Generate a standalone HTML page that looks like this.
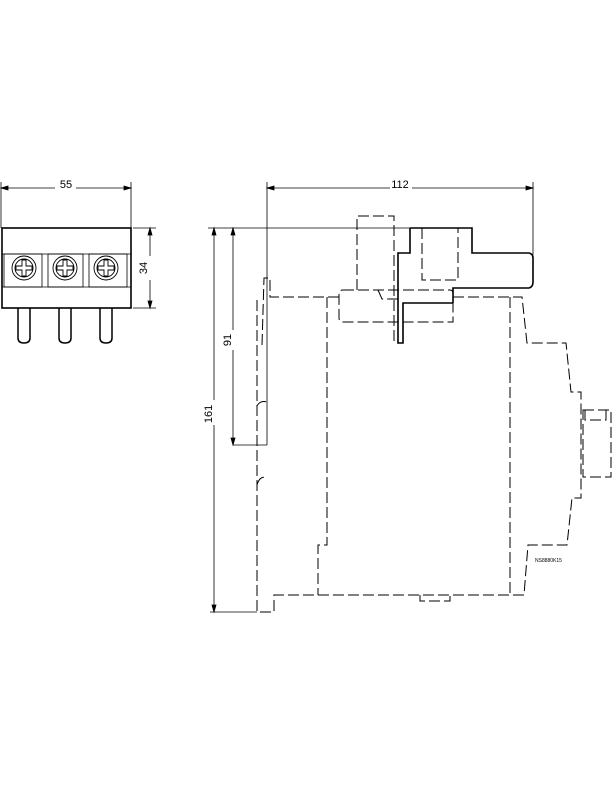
<!DOCTYPE html>
<html><head><style>body{margin:0;background:#fff}svg{display:block}</style></head><body>
<svg width="612" height="792" viewBox="0 0 612 792" xmlns="http://www.w3.org/2000/svg" font-family="Liberation Sans, sans-serif" fill="none" stroke="#000">
<!-- left view -->
<g stroke-width="0.8">
<line x1="1" y1="182" x2="1" y2="228"/><line x1="131" y1="182" x2="131" y2="228"/>
<line x1="1" y1="188" x2="55" y2="188"/><line x1="76" y1="188" x2="131" y2="188"/>
<path d="M1,188 l7,-2 v4z M131,188 l-7,-2 v4z" fill="#000"/>
<line x1="133" y1="228" x2="156" y2="228"/><line x1="133" y1="308" x2="156" y2="308"/>
<line x1="150" y1="228" x2="150" y2="256"/><line x1="150" y1="280" x2="150" y2="308"/>
<path d="M150,228 l-2,7 h4z M150,308 l-2,-7 h4z" fill="#000"/>
</g>
<text x="66" y="188" font-size="11" fill="#000" stroke="none" text-anchor="middle">55</text>
<text x="0" y="0" font-size="11" fill="#000" stroke="none" text-anchor="middle" transform="translate(147,268) rotate(-90)">34</text>
<rect x="2" y="228" width="129" height="80" stroke-width="1.6"/>
<g stroke-width="0.8">
<line x1="2" y1="254" x2="131" y2="254"/><line x1="2" y1="287" x2="131" y2="287"/>
<rect x="4" y="254" width="38" height="33"/><rect x="48" y="254" width="35" height="33"/><rect x="89" y="254" width="38" height="33"/>
</g>
<g stroke-width="0.9">
<circle cx="24" cy="268" r="12"/><circle cx="24" cy="268" r="9"/>
<circle cx="65" cy="268" r="12"/><circle cx="65" cy="268" r="9"/>
<circle cx="106" cy="268" r="12"/><circle cx="106" cy="268" r="9"/>
<path d="M22,260v6h-6v4h6v6h4v-6h6v-4h-6v-6z M63,260v6h-6v4h6v6h4v-6h6v-4h-6v-6z M104,260v6h-6v4h6v6h4v-6h6v-4h-6v-6z"/>
</g>
<g stroke-width="1.5">
<path d="M18,308v30q0,5 6,5q6,0 6,-5v-30"/>
<path d="M59,308v30q0,5 6,5q6,0 6,-5v-30"/>
<path d="M100,308v30q0,5 6,5q6,0 6,-5v-30"/>
</g>
<!-- right view dims -->
<g stroke-width="0.8">
<line x1="267" y1="182" x2="267" y2="445"/><line x1="533" y1="182" x2="533" y2="255"/>
<line x1="267" y1="188" x2="390" y2="188"/><line x1="412" y1="188" x2="533" y2="188"/>
<path d="M267,188 l7,-2 v4z M533,188 l-7,-2 v4z" fill="#000"/>
<line x1="208" y1="228" x2="410" y2="228"/>
<line x1="214" y1="228" x2="214" y2="400"/><line x1="214" y1="425" x2="214" y2="612"/>
<line x1="233" y1="228" x2="233" y2="330"/><line x1="233" y1="350" x2="233" y2="445"/>
<line x1="233" y1="445" x2="267" y2="445"/>
<line x1="210" y1="612" x2="257" y2="612"/>
<path d="M214,228 l-2,7 h4z M214,612 l-2,-7 h4z M233,228 l-2,7 h4z M233,445 l-2,-7 h4z" fill="#000"/>
</g>
<text font-size="11" fill="#000" stroke="none" x="400" y="188" text-anchor="middle">112</text>
<text font-size="11" fill="#000" stroke="none" text-anchor="middle" transform="translate(212,414) rotate(-90)">161</text>
<text font-size="11" fill="#000" stroke="none" text-anchor="middle" transform="translate(231,340) rotate(-90)">91</text>
<!-- solid part -->
<g stroke-width="1.6">
<path d="M410,228H472V253H529Q533,254 533,258V282Q533,287 529,288H453V303"/>
<path d="M410,228V253H398V343H403V303H453"/>
</g>
<!-- dashed -->
<g stroke-width="1" stroke-dasharray="11,4">
<path d="M357,290V216H394V343"/>
<path d="M422,228V280H458V228"/>
<path d="M343,290H450Q453,290 453,294V322H343Q339,322 339,318V294Q339,290 343,290Z"/>
<path d="M378,290L382,299H398"/>
<path d="M262,345L264,278H270V297H340"/>
<path d="M453,297H522L527,343H566L571,392H581V498H572L567,545H528L524,595H274V612H257V297"/>
<path d="M327,297V545H318V595"/>
<path d="M510,297V595"/>
<path d="M420,595V601H450V595"/>
<path d="M583,410H611V477H583Z"/>
<path d="M585,410V420H606V410"/>
<path d="M257,406Q260,400 267,402 M257,485Q260,475 267,478"/>
</g>
<text x="535" y="562" font-size="5" fill="#000" stroke="none">NS8880K15</text>
</svg>
</body></html>
